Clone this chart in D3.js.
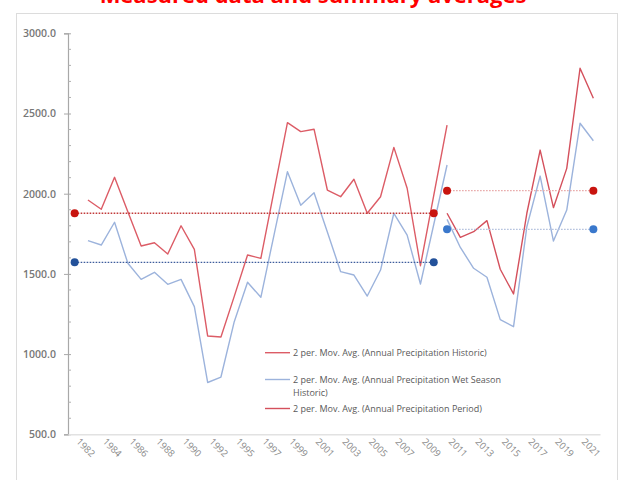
<!DOCTYPE html>
<html>
<head>
<meta charset="utf-8">
<script src="https://cdn.jsdelivr.net/npm/d3@7"></script>
<style>
  html, body { margin: 0; padding: 0; background: #fff; }
  svg { display: block; }
</style>
</head>
<body>
<svg id="chart" width="626" height="480"></svg>
<script>
// ---- data ----
const categories = ["1982","1983","1984","1985","1986","1987","1988","1989","1990","1991","1992","1994",
  "1995","1996","1997","1998","1999","2000","2001","2002","2003","2004","2005","2006","2007","2008",
  "2009","2010","2011","2012","2013","2014","2015","2016","2017","2018","2019","2020","2021","2022"];

const tickLabels = ["1982","1984","1986","1988","1990","1992","1995","1997","1999","2001","2003",
  "2005","2007","2009","2011","2013","2015","2017","2019","2021"];

const yTicks = [500, 1000, 1500, 2000, 2500, 3000];

// 2-period moving average, annual precipitation (historic)
const historicTotal = [null, 1961, 1903, 2102, 1888, 1674, 1694, 1624, 1800, 1653, 1113, 1107, 1360,
  1618, 1597, 2021, 2443, 2387, 2402, 2023, 1981, 2090, 1878, 1981, 2289, 2034, 1551, 1990, 2428,
  null, null, null, null, null, null, null, null, null, null, null];

// 2-period moving average, annual precipitation wet season (historic)
const historicWet = [null, 1707, 1680, 1822, 1566, 1466, 1510, 1435, 1466, 1296, 823, 857, 1202,
  1448, 1354, 1747, 2137, 1928, 2006, 1761, 1514, 1493, 1362, 1524, 1878, 1742, 1437, 1808, 2179,
  null, null, null, null, null, null, null, null, null, null, null];

// 2-period moving average, annual precipitation (period)
const periodTotal = [null, null, null, null, null, null, null, null, null, null, null, null, null, null,
  null, null, null, null, null, null, null, null, null, null, null, null, null, null,
  1878, 1728, 1763, 1832, 1529, 1375, 1878, 2272, 1913, 2158, 2782, 2595];

// 2-period moving average, wet season (period)
const periodWet = [null, null, null, null, null, null, null, null, null, null, null, null, null, null,
  null, null, null, null, null, null, null, null, null, null, null, null, null, null,
  1840, 1665, 1535, 1479, 1215, 1171, 1794, 2110, 1705, 1898, 2439, 2330];

// summary averages: [category, value]
const historicAvgTotal = [["1982", 1878], ["2010", 1878]];
const historicAvgWet   = [["1982", 1572], ["2010", 1572]];
const periodAvgTotal   = [["2011", 2019], ["2022", 2019]];
const periodAvgWet     = [["2011", 1778], ["2022", 1778]];

const legendItems = [
  { lines: ["2 per. Mov. Avg. (Annual Precipitation Historic)"], color: "#dc5c66" },
  { lines: ["2 per. Mov. Avg. (Annual Precipitation Wet Season", "Historic)"], color: "#9cb3dc" },
  { lines: ["2 per. Mov. Avg. (Annual Precipitation Period)"], color: "#d4505c" }
];

// ---- drawing ----
const svg = d3.select("#chart");
const FONT = "'Open Sans', Lato, sans-serif";

// frame
svg.append("rect").attr("x", 16.5).attr("y", 13.5).attr("width", 601).attr("height", 500)
  .attr("fill", "none").attr("stroke", "#dcdcdc").attr("stroke-width", 1);

// title (partially clipped at top, as in the reference)
svg.append("text").attr("x", 313).attr("y", 3)
  .attr("text-anchor", "middle").attr("font-family", FONT)
  .attr("font-weight", "bold").attr("font-size", 22).attr("fill", "#ff0000")
  .text("Measured data and summary averages");

const x = d3.scaleBand().domain(categories).range([68, 600]).padding(0);
const cx = c => x(c) + x.bandwidth() / 2;
const y = d3.scaleLinear().domain([500, 3000]).range([434.3, 33.3]);

// y axis
const yAxis = svg.append("g").attr("transform", "translate(68,0)")
  .call(d3.axisLeft(y).tickValues(yTicks).tickFormat(d3.format(".1f")).tickSize(4).tickPadding(8));
yAxis.select(".domain").attr("stroke", "#a8a8a8").attr("stroke-width", 1.2);
yAxis.selectAll(".tick line").attr("stroke", "#a8a8a8").attr("x2", -4).attr("x1", 3);
yAxis.selectAll(".tick text").attr("font-family", FONT).attr("font-size", 10.5)
  .attr("font-weight", 600).attr("fill", "#777");
// minor ticks
const minor = d3.range(600, 3000, 100).filter(v => v % 500 !== 0);
svg.append("g").selectAll("line").data(minor).join("line")
  .attr("x1", 68).attr("x2", 71).attr("y1", d => y(d)).attr("y2", d => y(d))
  .attr("stroke", "#b0b0b0").attr("stroke-width", 1);

// x axis
const xAxis = svg.append("g").attr("transform", "translate(0,434.3)")
  .call(d3.axisBottom(x).tickValues(tickLabels).tickSize(0).tickPadding(0));
xAxis.select(".domain").attr("stroke", "#e2e2e2").attr("stroke-width", 1.5);
xAxis.selectAll(".tick text")
  .attr("font-family", FONT).attr("font-size", 9.5).attr("fill", "#8a8a8a")
  .attr("text-anchor", "start").attr("dy", 0).attr("y", 0)
  .attr("transform", "translate(1,8) rotate(45)");

// lines
const lineGen = d3.line().defined(d => d[1] != null).x(d => cx(d[0])).y(d => y(d[1]));
function drawSeries(vals, color, w) {
  svg.append("path").datum(categories.map((c, i) => [c, vals[i]]))
    .attr("d", lineGen).attr("fill", "none").attr("stroke", color)
    .attr("stroke-width", w).attr("stroke-linejoin", "round");
}
drawSeries(historicWet, "#9cb3dc", 1.4);
drawSeries(periodWet, "#9cb3dc", 1.4);
drawSeries(historicTotal, "#dc5c66", 1.4);
drawSeries(periodTotal, "#d4505c", 1.4);

// summary averages
function drawAvg(pts, lineColor, dotColor) {
  svg.append("path").datum(pts).attr("d", d3.line().x(d => cx(d[0])).y(d => y(d[1])))
    .attr("fill", "none").attr("stroke", lineColor).attr("stroke-width", 1.3)
    .attr("stroke-dasharray", "1.6,1.4");
  svg.append("g").selectAll("circle").data(pts).join("circle")
    .attr("cx", d => cx(d[0])).attr("cy", d => y(d[1])).attr("r", 4)
    .attr("fill", dotColor);
}
drawAvg(historicAvgTotal, "#c23a3a", "#c8140f");
drawAvg(historicAvgWet, "#3d5c9c", "#23519a");
drawAvg(periodAvgTotal, "#e8aaaa", "#c8140f");
drawAvg(periodAvgWet, "#b4c2de", "#3a78cc");

// legend
const legendY = [352.7, 379.5, 408.5];
legendItems.forEach((it, i) => {
  const g = svg.append("g");
  g.append("line").attr("x1", 265).attr("x2", 290).attr("y1", legendY[i]).attr("y2", legendY[i])
    .attr("stroke", it.color).attr("stroke-width", 1.4);
  it.lines.forEach((t, j) => {
    g.append("text").attr("x", 293).attr("y", legendY[i] + 3.2 + j * 13)
      .attr("font-family", FONT).attr("font-size", 9).attr("fill", "#595959").text(t);
  });
});
</script>
</body>
</html>
